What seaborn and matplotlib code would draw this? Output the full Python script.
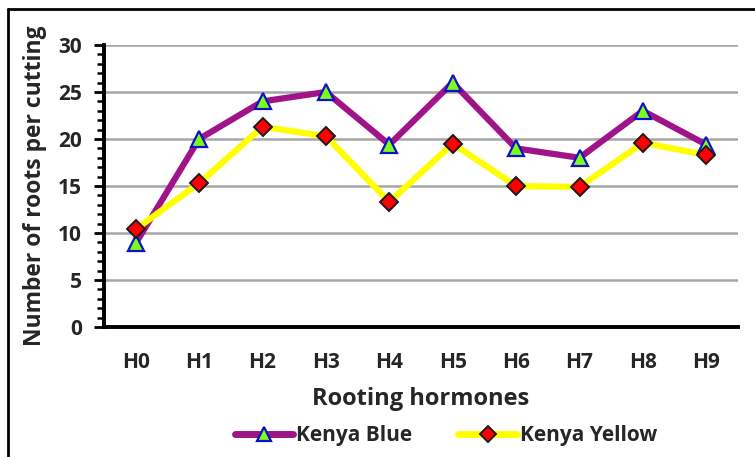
import matplotlib
matplotlib.use("Agg")
import matplotlib.pyplot as plt
from matplotlib.lines import Line2D
from matplotlib.ticker import MultipleLocator
import pandas as pd
import seaborn as sns

hormones = ["H0", "H1", "H2", "H3", "H4", "H5", "H6", "H7", "H8", "H9"]
kenya_blue = [8.9, 20.0, 24.0, 25.0, 19.4, 26.0, 19.0, 18.0, 23.0, 19.4]
kenya_yellow = [10.4, 15.3, 21.3, 20.3, 13.3, 19.5, 15.0, 14.9, 19.6, 18.3]
y_ticks = [0, 5, 10, 15, 20, 25, 30]

df = pd.DataFrame({
    "Hormone": hormones * 2,
    "Roots": kenya_blue + kenya_yellow,
    "Variety": ["Kenya Blue"] * len(hormones) + ["Kenya Yellow"] * len(hormones),
})
df["pos"] = df["Hormone"].map({h: i for i, h in enumerate(hormones)})

sns.set_style("white")
plt.rcParams["font.family"] = ["Open Sans", "DejaVu Sans"]
plt.rcParams["font.weight"] = "bold"

fig = plt.figure(figsize=(7.55, 4.57), dpi=100)
ax = fig.add_axes([104 / 755, 1 - 327 / 457, (738 - 104) / 755, (327 - 45) / 457])

line_colors = {"Kenya Blue": "#A0148A", "Kenya Yellow": "#FFFF00"}
styles = {
    "Kenya Blue": dict(marker="^", mfc="#7CFC1A", mec="#1010C8", ms=12, mew=1.6),
    "Kenya Yellow": dict(marker="D", mfc="#FF0000", mec="#1A1A1A", ms=9, mew=1.4),
}

sns.lineplot(data=df, x="pos", y="Roots", hue="Variety", palette=line_colors,
             lw=4.5, ax=ax, legend=False, zorder=2)
for variety, sub in df.groupby("Variety"):
    ax.plot(sub["pos"], sub["Roots"], ls="none", zorder=3, **styles[variety])

ax.set_xlim(-0.5, len(hormones) - 0.5)
ax.set_ylim(0, 30)
ax.set_xticks(range(len(hormones)))
ax.set_xticklabels(hormones)
ax.set_yticks(y_ticks)
ax.yaxis.set_minor_locator(MultipleLocator(1))
ax.yaxis.grid(True, color="#A6A6A6", lw=1.8)
ax.set_axisbelow(True)

for s in ("top", "right"):
    ax.spines[s].set_visible(False)
for s in ("left", "bottom"):
    ax.spines[s].set_linewidth(2.8)
    ax.spines[s].set_color("black")

ax.tick_params(axis="y", which="major", length=7, width=2, color="black",
               labelsize=15, pad=9, left=True)
ax.tick_params(axis="y", which="minor", length=5, width=1.8, color="black", left=True)
ax.tick_params(axis="x", length=0, labelsize=15, pad=18)
for lab in ax.get_xticklabels() + ax.get_yticklabels():
    lab.set_fontweight("bold")

ax.set_xlabel("Rooting hormones", fontsize=17, fontweight="bold", labelpad=10)
ax.set_ylabel("Number of roots per cutting", fontsize=16.5, fontweight="bold", labelpad=8)

handles = [
    Line2D([], [], color=line_colors["Kenya Blue"], lw=5, **styles["Kenya Blue"]),
    Line2D([], [], color=line_colors["Kenya Yellow"], lw=5, **styles["Kenya Yellow"]),
]
handles[0].set_markersize(10)
handles[1].set_markersize(8)
leg = fig.legend(handles, ["Kenya Blue", "Kenya Yellow"], loc="center",
                 bbox_to_anchor=(446 / 755, 1 - 436 / 457), ncol=2, frameon=False,
                 handlelength=2.8, columnspacing=2.2, handletextpad=0.15,
                 prop={"size": 15, "weight": "bold"})

# outer frame of the chart area
fig.add_artist(Line2D([8 / 755, 8 / 755], [0, 1 - 9 / 457], color="black", lw=2,
                      transform=fig.transFigure))
fig.add_artist(Line2D([8 / 755, 1], [1 - 9 / 457, 1 - 9 / 457], color="black", lw=2,
                      transform=fig.transFigure))

fig.savefig("out.png", dpi=100)
